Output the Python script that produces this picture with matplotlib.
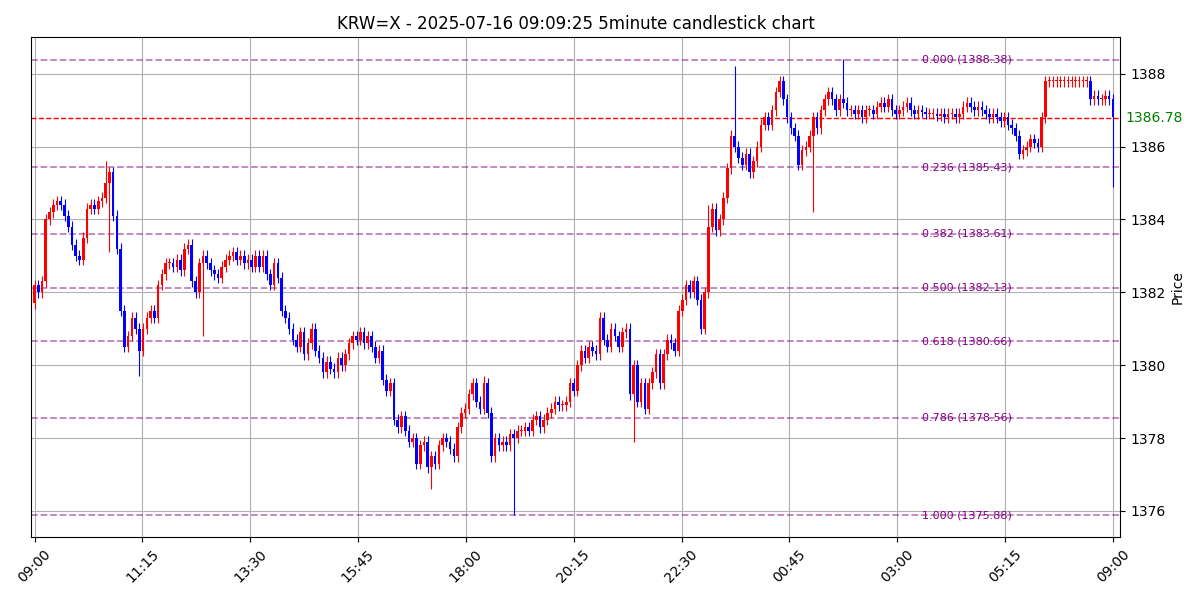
import matplotlib; matplotlib.use('Agg'); import matplotlib.pyplot as plt
import numpy as np

# 5-minute closes, one row per hour starting 09:00
CLOSES = [
    1382.2, 1382.0, 1382.3, 1384.0, 1384.2, 1384.4, 1384.5, 1384.4, 1384.1, 1383.8, 1383.3, 1383.0,
    1382.9, 1383.5, 1384.3, 1384.4, 1384.3, 1384.5, 1384.6, 1385.0, 1385.3, 1384.1, 1383.2, 1381.5,
    1380.5, 1380.8, 1381.3, 1381.0, 1380.4, 1381.0, 1381.3, 1381.5, 1381.3, 1382.2, 1382.5, 1382.8,
    1382.8, 1382.7, 1382.9, 1382.6, 1383.2, 1383.3, 1382.3, 1382.0, 1382.8, 1383.0, 1382.8, 1382.6,
    1382.5, 1382.4, 1382.7, 1382.9, 1383.0, 1383.1, 1382.9, 1383.0, 1382.8, 1382.9, 1382.7, 1383.0,
    1382.7, 1383.0, 1382.5, 1382.2, 1382.8, 1382.4, 1381.5, 1381.3, 1381.0, 1380.7, 1380.5, 1380.9,
    1380.3, 1380.6, 1381.0, 1380.4, 1380.2, 1379.8, 1380.1, 1379.9, 1379.8, 1380.2, 1380.0, 1380.3,
    1380.6, 1380.8, 1380.7, 1380.9, 1380.6, 1380.8, 1380.5, 1380.2, 1380.4, 1379.6, 1379.3, 1379.5,
    1378.5, 1378.3, 1378.6, 1378.2, 1377.9, 1378.0, 1377.3, 1377.8, 1377.9, 1377.2, 1377.5, 1377.3,
    1377.8, 1378.0, 1377.9, 1377.7, 1377.5, 1378.3, 1378.7, 1378.8, 1379.2, 1379.5, 1379.0, 1378.8,
    1379.5, 1378.7, 1377.5, 1378.0, 1377.8, 1377.9, 1377.8, 1378.1, 1378.0, 1378.2, 1378.2, 1378.3,
    1378.2, 1378.5, 1378.6, 1378.3, 1378.5, 1378.7, 1378.8, 1379.0, 1378.9, 1378.9, 1379.0, 1379.5,
    1379.3, 1380.0, 1380.4, 1380.2, 1380.5, 1380.4, 1380.3, 1381.3, 1380.7, 1380.5, 1381.0, 1380.8,
    1380.5, 1380.9, 1381.0, 1379.2, 1380.0, 1379.0, 1379.5, 1378.8, 1379.5, 1379.8, 1380.3, 1379.5,
    1380.3, 1380.7, 1380.6, 1380.4, 1381.5, 1381.8, 1382.2, 1382.0, 1382.3, 1381.8, 1381.0, 1382.0,
    1383.8, 1384.3, 1383.7, 1384.0, 1384.6, 1385.4, 1386.3, 1386.0, 1385.7, 1385.5, 1385.8, 1385.3,
    1385.6, 1386.0, 1386.6, 1386.8, 1386.6, 1387.0, 1387.5, 1387.8, 1387.3, 1386.8, 1386.5, 1386.3,
    1385.5, 1385.9, 1386.0, 1386.3, 1386.8, 1386.5, 1387.0, 1387.3, 1387.5, 1387.3, 1387.0, 1387.3,
    1387.2, 1387.0, 1387.0, 1386.9, 1387.0, 1386.8, 1387.0, 1387.0, 1386.9, 1387.1, 1387.2, 1387.1,
    1387.3, 1387.0, 1386.9, 1387.0, 1387.1, 1387.2, 1387.0, 1386.9, 1387.0, 1386.95, 1386.9, 1386.9,
    1386.9, 1386.85, 1386.9, 1386.8, 1386.9, 1386.9, 1386.8, 1386.9, 1387.1, 1387.2, 1387.1, 1387.0,
    1387.1, 1387.0, 1386.9, 1386.8, 1386.9, 1386.8, 1386.7, 1386.8, 1386.6, 1386.5, 1386.3, 1385.8,
    1385.9, 1386.0, 1386.2, 1386.1, 1386.0, 1386.8, 1387.8, 1387.8, 1387.8, 1387.8, 1387.8, 1387.8,
    1387.8, 1387.8, 1387.8, 1387.8, 1387.8, 1387.8, 1387.3, 1387.4, 1387.3, 1387.3, 1387.4, 1387.3,
    1386.8,
]
FIRST_OPEN = 1381.7
WICK = 0.15  # typical wick beyond body
# notable wicks: bar index -> (high, low); None keeps default
BIG_WICKS = {19: (1385.6, None), 20: (None, 1383.1), 28: (None, 1379.7), 45: (None, 1380.8),
             106: (None, 1376.6), 128: (None, 1375.9), 120: (1379.7, None), 160: (None, 1377.9),
             180: (1384.4, None), 187: (1388.2, None), 208: (None, 1384.2), 216: (1388.4, None),
             288: (None, 1384.9)}
FIB_RATIOS = [0.0, 0.236, 0.382, 0.5, 0.618, 0.786, 1.0]
FIB_HIGH, FIB_LOW = 1388.38, 1375.88
LAST = 1386.78
TICK_LABELS = ['09:00', '11:15', '13:30', '15:45', '18:00', '20:15', '22:30', '00:45', '03:00', '05:15', '09:00']

c = np.array(CLOSES); o = np.r_[FIRST_OPEN, c[:-1]]
hi = np.maximum(o, c) + WICK; lo = np.minimum(o, c) - WICK
for i, (h, l) in BIG_WICKS.items():
    if h is not None: hi[i] = h
    if l is not None: lo[i] = l
x = np.arange(len(c))
col = np.where(c >= o, 'red', 'blue')

fig, ax = plt.subplots(figsize=(12, 6), dpi=100)
ax.vlines(x, lo, hi, colors=col, lw=0.8, zorder=3)
ax.bar(x, np.maximum(np.abs(c - o), 0.03), bottom=np.minimum(o, c), width=0.7, color=col, zorder=3)

for r in FIB_RATIOS:
    lv = FIB_HIGH - r * (FIB_HIGH - FIB_LOW)
    ax.axhline(lv, ls='--', color='purple', alpha=0.5, lw=1.3)
    ax.text(249, lv, '%.3f (%.2f)' % (r, lv), color='purple', fontsize=8, ha='center', va='center')
ax.axhline(LAST, ls='--', color='red', lw=1)
ax.text(1.005, LAST, '%.2f' % LAST, color='green', fontsize=10, va='center',
        transform=ax.get_yaxis_transform())

ax.set_xticks(np.linspace(0, len(c) - 1, len(TICK_LABELS)))
ax.set_xticklabels(TICK_LABELS, rotation=45)
ax.set_xlim(-1, 290)
ax.set_ylim(1375.28, 1389.0)
ax.yaxis.tick_right(); ax.yaxis.set_label_position('right')
ax.set_ylabel('Price')
ax.grid(True, color='#b0b0b0', lw=0.8)
ax.set_title('KRW=X - 2025-07-16 09:09:25 5minute candlestick chart')
fig.tight_layout()
fig.savefig('out.png', dpi=100)
